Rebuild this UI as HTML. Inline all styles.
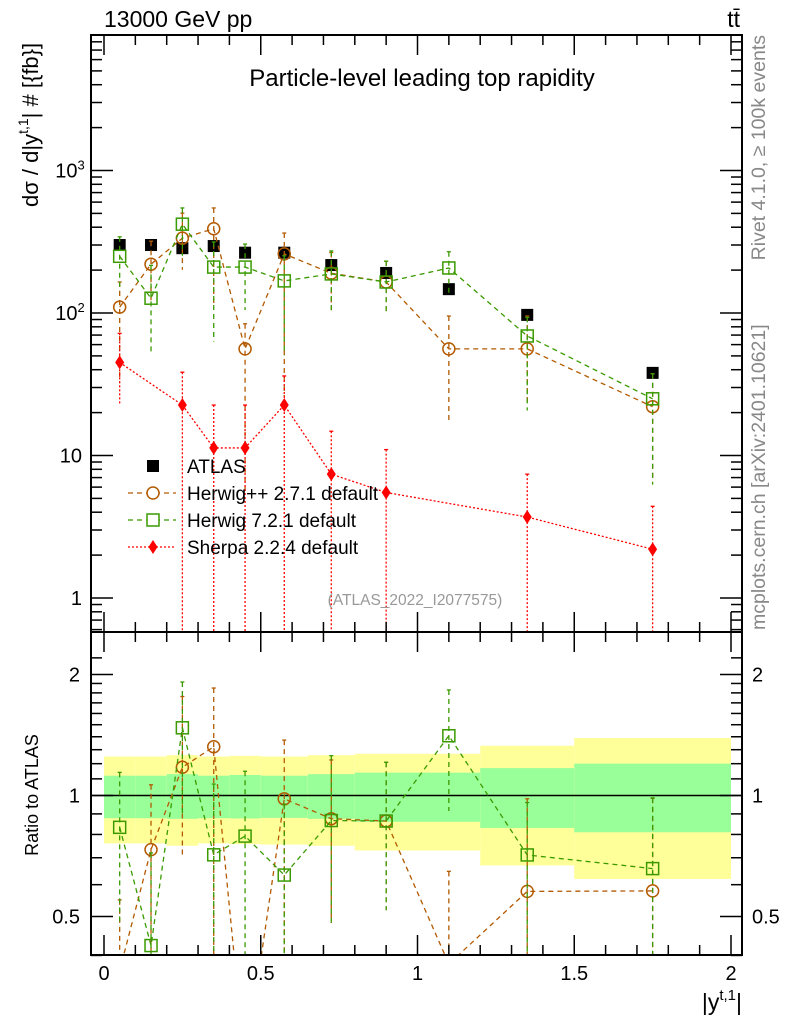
<!DOCTYPE html>
<html><head><meta charset="utf-8"><style>
html,body{margin:0;padding:0;background:#fff;width:786px;height:1024px;overflow:hidden;position:relative;}
svg{display:block;position:absolute;left:0;top:0;overflow:hidden;font-family:"Liberation Sans",sans-serif;}
</style></head><body>
<svg id="chart" width="786" height="1024" viewBox="0 0 786 1024">
<defs>
<clipPath id="cm"><rect x="91" y="35" width="651" height="597"/></clipPath>
<clipPath id="cr"><rect x="91" y="632" width="651" height="323"/></clipPath>
</defs>
<g id="bands" clip-path="url(#cr)"></g>
<g id="marks"></g>
<g id="axes"></g>
<rect x="91" y="35" width="651" height="597" fill="none" stroke="#000" stroke-width="2"/>
<rect x="91" y="632" width="651" height="323" fill="none" stroke="#000" stroke-width="2"/>
<text x="104" y="27" font-size="23">13000 GeV pp</text>
<text x="740" y="27" font-size="23" text-anchor="end">tt̄</text>
<text x="422" y="86" font-size="24" text-anchor="middle">Particle-level leading top rapidity</text>
<text x="415" y="605" font-size="15.5" fill="#999" text-anchor="middle">(ATLAS_2022_I2077575)</text>
<text transform="translate(765,35) rotate(-90)" font-size="19.5" fill="#888" text-anchor="end">Rivet 4.1.0, ≥ 100k events</text>
<text transform="translate(765,630) rotate(-90)" font-size="19.5" fill="#888">mcplots.cern.ch [arXiv:2401.10621]</text>
<text transform="translate(38,207) rotate(-90)" font-size="22">dσ / d|y<tspan dy="-10" font-size="14">t,1</tspan><tspan dy="10">| # [{fb}]</tspan></text>
<text transform="translate(38,795) rotate(-90)" font-size="18" text-anchor="middle">Ratio to ATLAS</text>
<text x="742" y="1010" font-size="23" text-anchor="end">|y<tspan dy="-10" font-size="15">t,1</tspan><tspan dy="10">|</tspan></text>
<g id="legend"></g>
</svg>
<script>
const xCenters=[0.05,0.15,0.25,0.35,0.45,0.575,0.725,0.9,1.1,1.35,1.75];
const binEdges=[0,0.1,0.2,0.3,0.4,0.5,0.65,0.8,1.0,1.2,1.5,2.0];
const atlas=[300,300,285,295,265,265,217,191,147,97,38];
const herwigpp=[110,220,335,390,56,260,190,165,56,56,22];
const herwig7=[250,127,420,210,210,168,188,165,207,69,25];
const sherpa=[45,null,22.6,11.3,11.3,22.6,7.4,5.5,null,3.7,2.2];
const hppUp=[1.5,1.45,1.5,1.4,1.5,1.4,1.4,1.4,1.7,1.7,1.7];
const hppDn=[0.3,0.55,0.6,0.3,0.1,0.1,0.55,0.6,0.3,0.4,0.3];
const h7Up=[1.37,1.7,1.3,1.5,1.45,1.5,1.45,1.4,1.3,1.35,1.5];
const h7Dn=[0.57,0.4,0.6,0.3,0.5,0.3,0.55,0.6,0.65,0.3,0.25];
const shUp=[1.6,1.6,1.7,2.0,2.0,1.6,2.0,2.0,1.6,2.0,2.0];
const shDn=[0.5,0.5,0.01,0.01,0.01,0.01,0.01,0.01,0.01,0.01,0.01];
const bandYelUp=[1.25,1.25,1.26,1.25,1.255,1.25,1.26,1.27,1.27,1.33,1.39];
const bandGrnUp=[1.12,1.12,1.13,1.12,1.125,1.12,1.13,1.14,1.14,1.17,1.2];
const bandGrnDn=[0.878,0.878,0.875,0.878,0.877,0.88,0.875,0.86,0.86,0.83,0.81];
const bandYelDn=[0.76,0.76,0.75,0.76,0.757,0.755,0.75,0.73,0.73,0.67,0.62];
const xTicks=[0,0.5,1,1.5,2];
const xTickLabels=["0","0.5","1","1.5","2"];
const ratioTicks=[0.5,1,2];
const ratioTickLabels=["0.5","1","2"];

const NS="http://www.w3.org/2000/svg";
const xs=v=>104+v*313.5;
const ym=v=>598-142.5*Math.log10(v);
const yr=v=>795.5-121*Math.log2(v);
function mk(tag,attrs,parent){const e=document.createElementNS(NS,tag);for(const k in attrs)e.setAttribute(k,attrs[k]);parent.appendChild(e);return e;}
const marks=document.getElementById('marks');
const axes=document.getElementById('axes');
const bands=document.getElementById('bands');

for(let i=0;i<xCenters.length;i++){
  const x0=xs(binEdges[i]),x1=xs(binEdges[i+1]);
  let r=mk('rect',{x:x0,y:yr(bandYelUp[i]),width:x1-x0,height:yr(bandYelDn[i])-yr(bandYelUp[i]),fill:'#ffff99'},bands);
  
  
  r=mk('rect',{x:x0,y:yr(bandGrnUp[i]),width:x1-x0,height:yr(bandGrnDn[i])-yr(bandGrnUp[i]),fill:'#99ff99'},bands);
  
  
}
let l1=mk('line',{x1:91,x2:742,y1:yr(1),y2:yr(1),stroke:'#000','stroke-width':1.5},bands);



function drawSeries(vals,up,dn,color,dash,marker,yfn,clip,name){
  const g=mk('g',{'clip-path':'url(#'+clip+')'},marks);
  
  
  let pts=[];
  vals.forEach((v,i)=>{ if(v!=null&&v>0) pts.push([xs(xCenters[i]),yfn(v)]); });
  const p=mk('polyline',{points:pts.map(q=>q.join(',')).join(' '),fill:'none',stroke:color,'stroke-width':1.3,'stroke-dasharray':dash},g);
  
  
  vals.forEach((v,i)=>{
    if(v==null||v<=0)return;
    const x=xs(xCenters[i]),y=yfn(v);
    const yt=Math.max(yfn(v*up[i]),-10),yb=Math.min(yfn(v*dn[i]),1030);
    const e=mk('line',{x1:x,x2:x,y1:yt,y2:yb,stroke:color,'stroke-width':1.3,'stroke-dasharray':dash},g);
    
    
    mk('line',{x1:x-2,x2:x+2,y1:yt,y2:yt,stroke:color,'stroke-width':1.3},g);
    let m;
    if(marker==='circle') m=mk('circle',{cx:x,cy:y,r:6,fill:'none',stroke:color,'stroke-width':1.5},g);
    else if(marker==='square') m=mk('rect',{x:x-6,y:y-6,width:12,height:12,fill:'none',stroke:color,'stroke-width':1.5},g);
    else m=mk('polygon',{points:`${x},${y-7} ${x+4.5},${y} ${x},${y+7} ${x-4.5},${y}`,fill:color},g);
    
    
  });
}
(function(){
  const g=mk('g',{'clip-path':'url(#cm)'},marks);
  
  
  atlas.forEach((v,i)=>{
    const x=xs(xCenters[i]),y=ym(v);
    const r=mk('rect',{x:x-6,y:y-6,width:12,height:12,fill:'#000'},g);
    
    
  });
})();
const OR='#b35a00',GR='#3a9a00',RD='#ff0000';
drawSeries(herwigpp,hppUp,hppDn,OR,'5,4','circle',ym,'cm','herwigpp-series');
drawSeries(herwig7,h7Up,h7Dn,GR,'5,4','square',ym,'cm','herwig7-series');
drawSeries(sherpa,shUp,shDn,RD,'2,2','diamond',ym,'cm','sherpa-series');
drawSeries(herwigpp.map((v,i)=>v/atlas[i]),hppUp,hppDn,OR,'5,4','circle',yr,'cr','herwigpp-ratio');
drawSeries(herwig7.map((v,i)=>v/atlas[i]),h7Up,h7Dn,GR,'5,4','square',yr,'cr','herwig7-ratio');
drawSeries(sherpa.map((v,i)=>v==null?null:v/atlas[i]),shUp,shDn,RD,'2,2','diamond',yr,'cr','sherpa-ratio');

function tick(x1,y1,x2,y2){mk('line',{x1,y1,x2,y2,stroke:'#000','stroke-width':1.5},axes);}
for(let v=0;v<=2.0001;v+=0.1){
  const x=xs(v),maj=Math.abs(v*2-Math.round(v*2))<1e-6,L=maj?20:10;
  tick(x,35,x,35+L);tick(x,632,x,632-L);tick(x,632,x,632+L);tick(x,955,x,955-L);
}
xTicks.forEach((v,i)=>{
  const t=mk('text',{x:xs(v),y:980,'font-size':20,'text-anchor':'middle'},axes);t.textContent=xTickLabels[i];
  
  
});
for(let d=-1;d<=3;d++){for(let k=1;k<10;k++){
  const v=k*Math.pow(10,d),y=ym(v);if(y<36||y>631)continue;
  const L=k===1?22:11;tick(91,y,91+L,y);tick(742,y,742-L,y);
}}
[[1,'1'],[10,'10'],[100,'10<tspan dy="-8" font-size="13">2</tspan>'],[1000,'10<tspan dy="-8" font-size="13">3</tspan>']].forEach(a=>{
  const t=mk('text',{x:a[0]>=100?70:82,y:ym(a[0])+7,'font-size':20,'text-anchor':a[0]>=100?'middle':'end'},axes);
  t.innerHTML=a[1];
  
  
});
[0.4,0.6,0.7,0.8,0.9,1.1,1.2,1.3,1.4,1.5,1.6,1.7,1.8,1.9,2.2].forEach(v=>{const y=yr(v);tick(91,y,102,y);tick(742,y,731,y);});
ratioTicks.forEach((v,i)=>{
  const y=yr(v);tick(91,y,113,y);tick(742,y,720,y);
  let t=mk('text',{x:80,y:y+7,'font-size':20,'text-anchor':'end'},axes);t.textContent=ratioTickLabels[i];
  
  
  t=mk('text',{x:752,y:y+7,'font-size':20},axes);t.textContent=ratioTickLabels[i];
  
  
});

const lg=document.getElementById('legend');
const entries=[['ATLAS','#000','','filled'],['Herwig++ 2.7.1 default',OR,'5,4','circle'],['Herwig 7.2.1 default',GR,'5,4','square'],['Sherpa 2.2.4 default',RD,'2,2','diamond']];
entries.forEach((e,i)=>{
  const y=466+i*27;
  const g=mk('g',{},lg);
  
  
  if(e[3]==='filled') mk('rect',{x:147,y:y-6,width:12,height:12,fill:'#000'},g);
  else{
    mk('line',{x1:128,x2:176,y1:y,y2:y,stroke:e[1],'stroke-width':1.3,'stroke-dasharray':e[2]},g);
    if(e[3]==='circle') mk('circle',{cx:153,cy:y,r:6,fill:'#fff',stroke:e[1],'stroke-width':1.5},g);
    else if(e[3]==='square') mk('rect',{x:147,y:y-6,width:12,height:12,fill:'#fff',stroke:e[1],'stroke-width':1.5},g);
    else mk('polygon',{points:`153,${y-7} 157.5,${y} 153,${y+7} 148.5,${y}`,fill:e[1]},g);
  }
  const t=mk('text',{x:187,y:y+7,'font-size':19},g);t.textContent=e[0];
});
</script>
</body></html>
